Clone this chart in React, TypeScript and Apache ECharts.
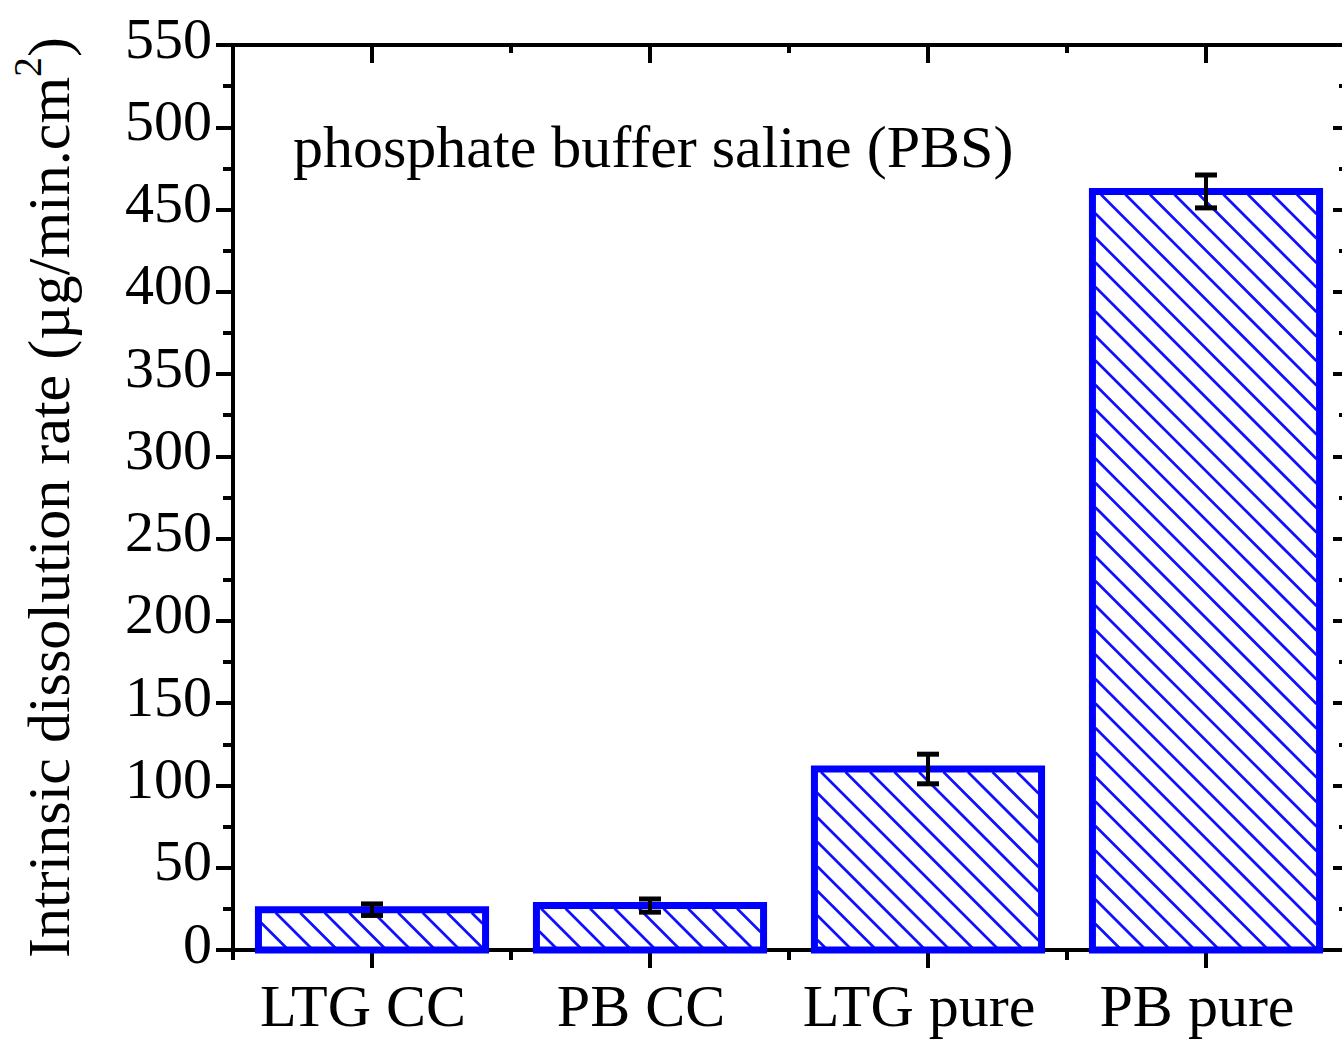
import { useEffect, useRef } from 'react';
import * as echarts from 'echarts';

const categories = ['LTG CC', 'PB CC', 'LTG pure', 'PB pure'];
const rates = [24.5, 27, 110, 461];
const errors = [3.5, 4, 9, 10];
const yMin = 0;
const yMax = 550;
const yInterval = 50;
const yTitle = 'Intrinsic dissolution rate (µg/min.cm{sup|2})';
const annotation = 'phosphate buffer saline (PBS)';

const FONT = '"Liberation Serif", "Times New Roman", serif';
const BLUE = '#0000ff';

export default function App() {
  const ref = useRef<HTMLDivElement>(null);

  useEffect(() => {
    document.body.style.margin = '0';
    const chart = echarts.init(ref.current!, undefined, { renderer: 'svg' });

    const barData = rates.map((v, i) => [i, v, errors[i]]);

    const hatchBar = (params: any, api: any) => {
      const i = api.value(0);
      const v = api.value(1);
      const base = api.coord([i, 0]);
      const top = api.coord([i, v]);
      const band = api.size([1, 0])[0];
      const w = band * 0.817;
      const x0 = base[0] - w / 2;
      const x1 = base[0] + w / 2;
      const y0 = top[1];
      const y1 = base[1];
      const children: any[] = [];
      children.push({
        type: 'rect',
        shape: { x: x0, y: y0, width: w, height: y1 - y0 },
        style: { fill: '#ffffff', stroke: 'none' },
      });
      const ix0 = x0 + 3, ix1 = x1 - 3, iy0 = y0 + 3, iy1 = y1;
      const step = 24.5;
      const cStart = Math.floor((iy0 - ix1) / step) * step;
      for (let c = cStart; c <= iy1 - ix0; c += step) {
        const xa = Math.max(ix0, iy0 - c);
        const xb = Math.min(ix1, iy1 - c);
        if (xb - xa > 0.5) {
          children.push({
            type: 'line',
            shape: { x1: xa, y1: xa + c, x2: xb, y2: xb + c },
            style: { stroke: '#1010ff', lineWidth: 2.7 },
          });
        }
      }
      children.push({
        type: 'rect',
        shape: { x: x0, y: y0, width: w, height: y1 - y0 },
        style: { fill: 'none', stroke: BLUE, lineWidth: 7 },
      });
      return { type: 'group', children };
    };

    const errorBar = (params: any, api: any) => {
      const i = api.value(0);
      const v = api.value(1);
      const e = api.value(2);
      const hi = api.coord([i, v + e]);
      const lo = api.coord([i, v - e]);
      const cap = 11;
      const st = { stroke: '#000', lineWidth: 5 };
      return {
        type: 'group',
        children: [
          { type: 'line', shape: { x1: hi[0], y1: hi[1], x2: lo[0], y2: lo[1] }, style: { ...st, lineWidth: 4 } },
          { type: 'line', shape: { x1: hi[0] - cap, y1: hi[1], x2: hi[0] + cap, y2: hi[1] }, style: st },
          { type: 'line', shape: { x1: lo[0] - cap, y1: lo[1], x2: lo[0] + cap, y2: lo[1] }, style: st },
        ],
      };
    };

    const axisLineStyle = { color: '#000', width: 4 };

    chart.setOption({
      animation: false,
      backgroundColor: '#ffffff',
      grid: { left: 233, top: 45, width: 1112, height: 905, containLabel: false, outerBoundsMode: 'none' },
      xAxis: [
        {
          type: 'category',
          data: categories,
          position: 'bottom',
          axisLine: { show: true, lineStyle: axisLineStyle },
          axisTick: { show: true, alignWithLabel: true, length: 18, interval: 0, lineStyle: { color: '#000', width: 4 } },
          axisLabel: { interval: 0, fontFamily: FONT, fontSize: 60, color: '#000', margin: 26, padding: [0, 18, 0, 0] },
          splitLine: { show: false },
        },
        {
          type: 'category',
          data: categories,
          position: 'bottom',
          axisLine: { show: false },
          axisTick: { show: true, alignWithLabel: false, length: 10, interval: 0, lineStyle: { color: '#000', width: 4 } },
          axisLabel: { show: false },
          splitLine: { show: false },
        },
        {
          type: 'category',
          data: categories,
          position: 'top',
          axisLine: { show: true, lineStyle: axisLineStyle },
          axisTick: { show: true, inside: true, alignWithLabel: true, length: 18, interval: 0, lineStyle: { color: '#000', width: 4 } },
          axisLabel: { show: false },
          splitLine: { show: false },
        },
        {
          type: 'category',
          data: categories,
          position: 'top',
          axisLine: { show: false },
          axisTick: { show: true, inside: true, alignWithLabel: false, length: 8, interval: 0, lineStyle: { color: '#000', width: 4 } },
          axisLabel: { show: false },
          splitLine: { show: false },
        },
      ],
      yAxis: [
        {
          type: 'value',
          position: 'left',
          min: yMin,
          max: yMax,
          interval: yInterval,
          axisLine: { show: true, lineStyle: axisLineStyle },
          axisTick: { show: true, length: 17, lineStyle: { color: '#000', width: 4 } },
          minorTick: { show: true, splitNumber: 2, length: 10, lineStyle: { color: '#000', width: 4 } },
          axisLabel: { fontFamily: FONT, fontSize: 58, color: '#000', margin: 21, verticalAlign: 'bottom', lineHeight: 14 },
          splitLine: { show: false },
          name: yTitle,
          nameLocation: 'middle',
          nameGap: 142,
          nameTextStyle: {
            fontFamily: FONT,
            fontSize: 60,
            color: '#000',
            rich: {
              sup: { fontFamily: FONT, fontSize: 40, color: '#000', padding: [0, 0, 44, 0] },
            },
          },
        },
        {
          type: 'value',
          position: 'right',
          min: yMin,
          max: yMax,
          interval: yInterval,
          axisLine: { show: true, lineStyle: axisLineStyle },
          axisTick: { show: true, inside: true, length: 12, lineStyle: { color: '#000', width: 4 } },
          minorTick: { show: true, splitNumber: 2, length: 6, lineStyle: { color: '#000', width: 4 } },
          axisLabel: { show: false },
          splitLine: { show: false },
        },
      ],
      graphic: [
        {
          type: 'text',
          left: 293,
          top: 117,
          style: { text: annotation, font: `60px ${FONT}`, fill: '#000' },
        },
      ],
      series: [
        {
          type: 'custom',
          name: 'rate',
          xAxisIndex: 0,
          yAxisIndex: 0,
          data: barData,
          renderItem: hatchBar,
          encode: { x: 0, y: 1 },
          z: 2,
        },
        {
          type: 'custom',
          name: 'error',
          xAxisIndex: 0,
          yAxisIndex: 0,
          data: barData,
          renderItem: errorBar,
          encode: { x: 0, y: [1] },
          z: 3,
        },
      ],
    });

    return () => chart.dispose();
  }, []);

  return <div ref={ref} style={{ width: 1342, height: 1040 }} />;
}
